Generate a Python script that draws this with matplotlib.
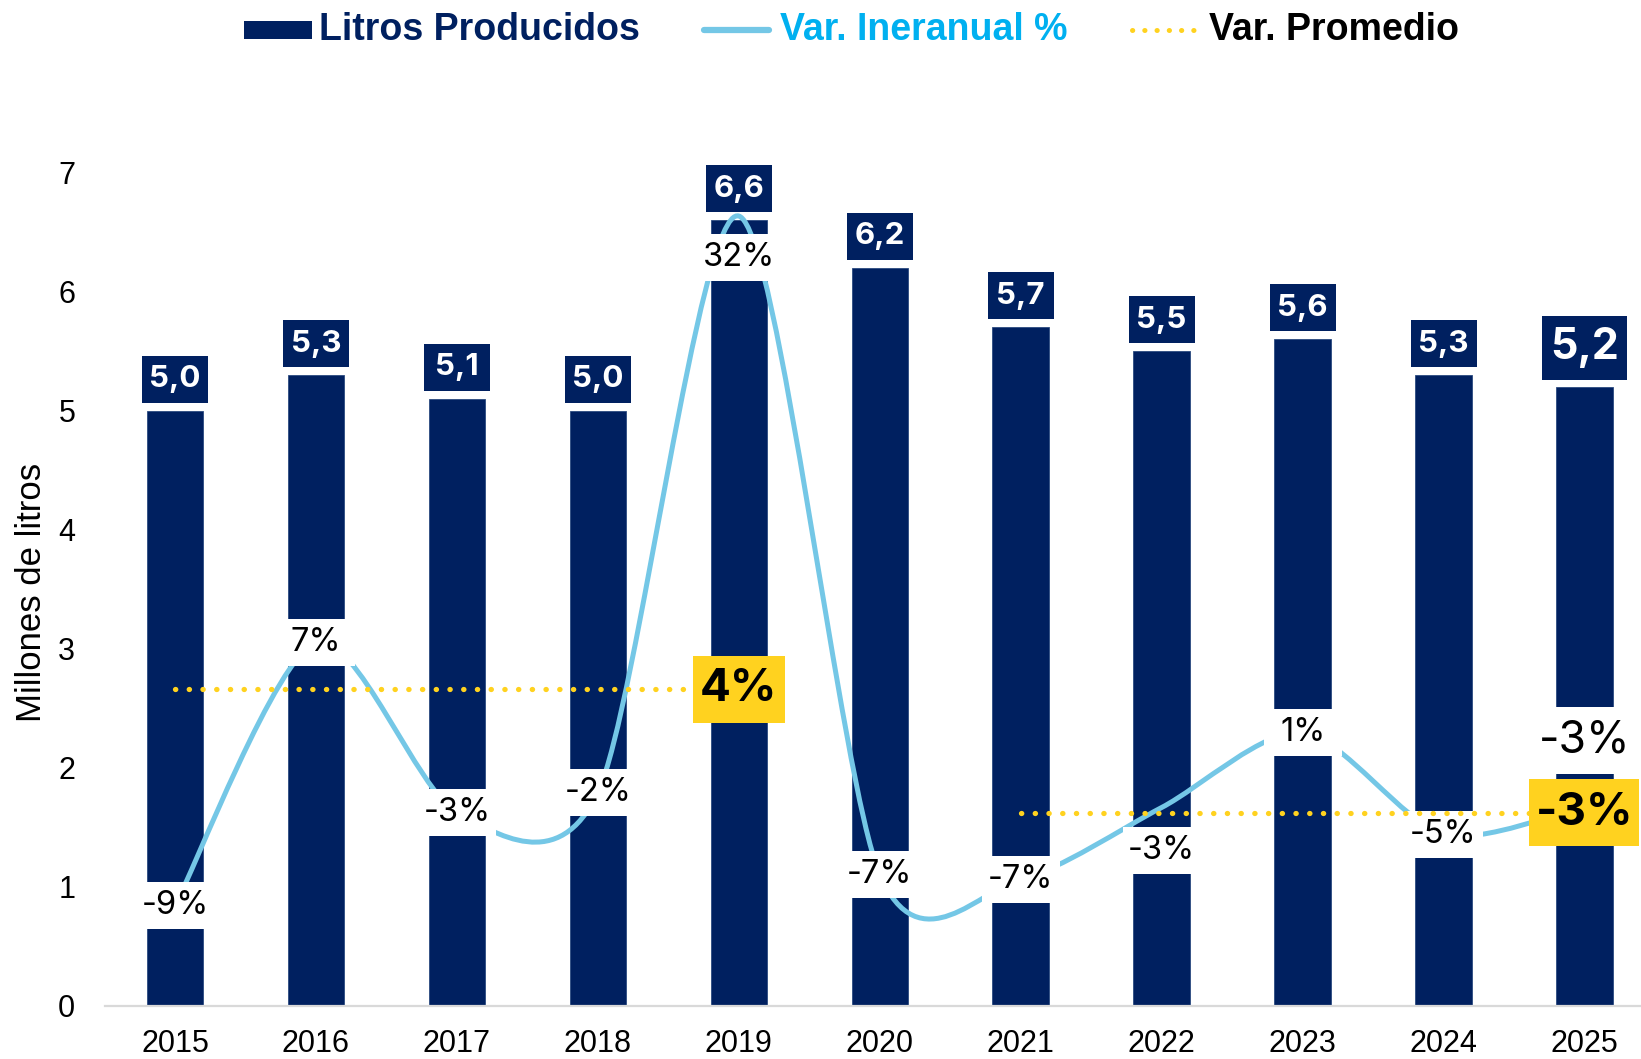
import numpy as np
import matplotlib
matplotlib.use("Agg")
import matplotlib.pyplot as plt
from matplotlib.path import Path
from matplotlib.patches import PathPatch, Rectangle
from matplotlib.transforms import ScaledTranslation
from matplotlib.lines import Line2D

# ---------------- data ----------------
years = ["2015", "2016", "2017", "2018", "2019", "2020", "2021", "2022", "2023", "2024", "2025"]
litros = [5.0, 5.3, 5.1, 5.0, 6.6, 6.2, 5.7, 5.5, 5.6, 5.3, 5.2]
var_pct = [-9.0, 6.8, -3.4, -2.2, 32.4, -7.1, -7.4, -3.1, 1.4, -4.7, -3.0]
prom1_range = ("2015", "2019")
prom1_value = 4.0
prom2_range = ("2021", "2025")
prom2_value = -3.4
legend_labels = ["Litros Producidos", "Var. Ineranual %", "Var. Promedio"]
ylabel = "Millones de litros"

# ---------------- style ----------------
NAVY = "#002060"
LBLUE = "#74C7E6"
LEGBLUE = "#00B0F0"
YELLOW = "#FFD21F"
GRID = "#D9D9D9"
W, H, DPI = 1641, 1059, 100
LABF = ["Inter", "DejaVu Sans"]
AXF = ["Liberation Sans", "DejaVu Sans"]
SMOOTH = 0.14

plt.rcParams["font.family"] = AXF

fig = plt.figure(figsize=(W / DPI, H / DPI), dpi=DPI)
ax_left = 104.5 / W
ax_w = 11 * 140.95 / W
ax_bottom = (H - 1005.8) / H
ax_h = (1005.8 - 172.7) / H
ax = fig.add_axes([ax_left, ax_bottom, ax_w, ax_h])
x = np.arange(len(years))

ax.bar(x, litros, width=0.40, color=NAVY, edgecolor="#2B4A80", linewidth=0.6, zorder=1)
ax.set_xlim(-0.5, 10.5)
ax.set_ylim(0, 7)
ax.set_yticks(range(8))
ax.set_xticks(x)
ax.set_xticklabels(years)
for s in ["top", "right", "left"]:
    ax.spines[s].set_visible(False)
ax.spines["bottom"].set_color(GRID)
ax.spines["bottom"].set_linewidth(1.6)
ax.tick_params(axis="y", length=0, pad=21, labelsize=22)
ax.tick_params(axis="x", length=0, pad=17, labelsize=22)

ax2 = ax.twinx()
ax2.set_ylim(-15, 35)
ax2.axis("off")


def px2in(v):
    return v / DPI


def box_label(axis, xv, yv, text, dx_px, dy_px, w_px, h_px, fc, tc, fs, weight, zb, zt):
    tr = fig.dpi_scale_trans + ScaledTranslation(xv, yv, axis.transData)
    rect = Rectangle((px2in(dx_px - w_px / 2), px2in(dy_px - h_px / 2)), px2in(w_px), px2in(h_px),
                     transform=tr, facecolor=fc, edgecolor="none", zorder=zb, clip_on=False)
    axis.add_artist(rect)
    axis.annotate(text, xy=(xv, yv), xytext=(dx_px * 72 / DPI, dy_px * 72 / DPI),
                  textcoords="offset points", ha="center", va="center", color=tc,
                  fontsize=fs, fontweight=weight, family=LABF, zorder=zt, annotation_clip=False)


# bar labels
for i, v in enumerate(litros):
    txt = f"{v:.1f}".replace(".", ",")
    if i == len(litros) - 1:
        box_label(ax, x[i], v, txt, 0, 39, 85, 64, NAVY, "white", 31, "bold", 5, 6)
    else:
        box_label(ax, x[i], v, txt, 0, 31.5, 66, 47, NAVY, "white", 22.5, "bold", 5, 6)

# smooth line (Bezier smoothing through each point)
P = np.column_stack([x, var_pct]).astype(float)
n = len(P)
verts = [tuple(P[0])]
codes = [Path.MOVETO]
for i in range(n - 1):
    pm = P[i - 1] if i > 0 else P[i]
    pp = P[i + 2] if i + 2 < n else P[i + 1]
    c1 = P[i] + (P[i + 1] - pm) * SMOOTH
    c2 = P[i + 1] - (pp - P[i]) * SMOOTH
    verts += [tuple(c1), tuple(c2), tuple(P[i + 1])]
    codes += [Path.CURVE4] * 3
ax2.add_patch(PathPatch(Path(verts, codes), facecolor="none", edgecolor=LBLUE,
                        linewidth=3.6, capstyle="round", zorder=2))

# line labels
offsets = {4: (0, -41), 7: (0, -43), 10: (0, 65)}
for i, v in enumerate(var_pct):
    txt = f"{round(v):.0f}%"
    dx, dy = offsets.get(i, (0, 0))
    if i == len(var_pct) - 1:
        box_label(ax2, x[i], v, txt, dx, dy, 96, 67, "white", "black", 32, "normal", 3, 4)
    else:
        box_label(ax2, x[i], v, txt, dx, dy, 78, 47, "white", "black", 23.5, "normal", 3, 4)

# average lines
for rng, val in [(prom1_range, prom1_value), (prom2_range, prom2_value)]:
    i0, i1 = years.index(rng[0]), years.index(rng[1])
    ax2.plot([x[i0], x[i1]], [val, val], color=YELLOW, linewidth=3.8,
             linestyle=(0, (0.05, 2.55)), dash_capstyle="round", zorder=5)
    wpx = 92 if val >= 0 else 110
    box_label(ax2, x[i1], val, f"{round(val):.0f}%", 0, 0, wpx, 67, YELLOW, "black", 33, "bold", 6, 7)

# y label
fig.text(32 / W, 1 - 592 / H, ylabel, rotation=90, ha="center", va="center", fontsize=25, family=AXF)

# legend (figure-level)
ly = 1 - 29.5 / H
fig.add_artist(Rectangle((244 / W, 1 - 39 / H), 68 / W, 18 / H, transform=fig.transFigure,
                         facecolor=NAVY, edgecolor="none"))
fig.text(319 / W, ly, legend_labels[0], color=NAVY, fontsize=27, fontweight="bold",
         ha="left", va="center", family=AXF)
fig.add_artist(Line2D([704 / W, 769 / W], [ly, ly], transform=fig.transFigure, color=LBLUE,
                      linewidth=4.5, solid_capstyle="round"))
fig.text(780 / W, ly, legend_labels[1], color=LEGBLUE, fontsize=27, fontweight="bold",
         ha="left", va="center", family=AXF)
fig.add_artist(Line2D([1132 / W, 1197 / W], [ly, ly], transform=fig.transFigure, color=YELLOW,
                      linewidth=3.6, linestyle=(0, (0.05, 2.4)), dash_capstyle="round"))
fig.text(1209 / W, ly, legend_labels[2], color="black", fontsize=27, fontweight="bold",
         ha="left", va="center", family=AXF)

fig.savefig("out.png", dpi=DPI)
